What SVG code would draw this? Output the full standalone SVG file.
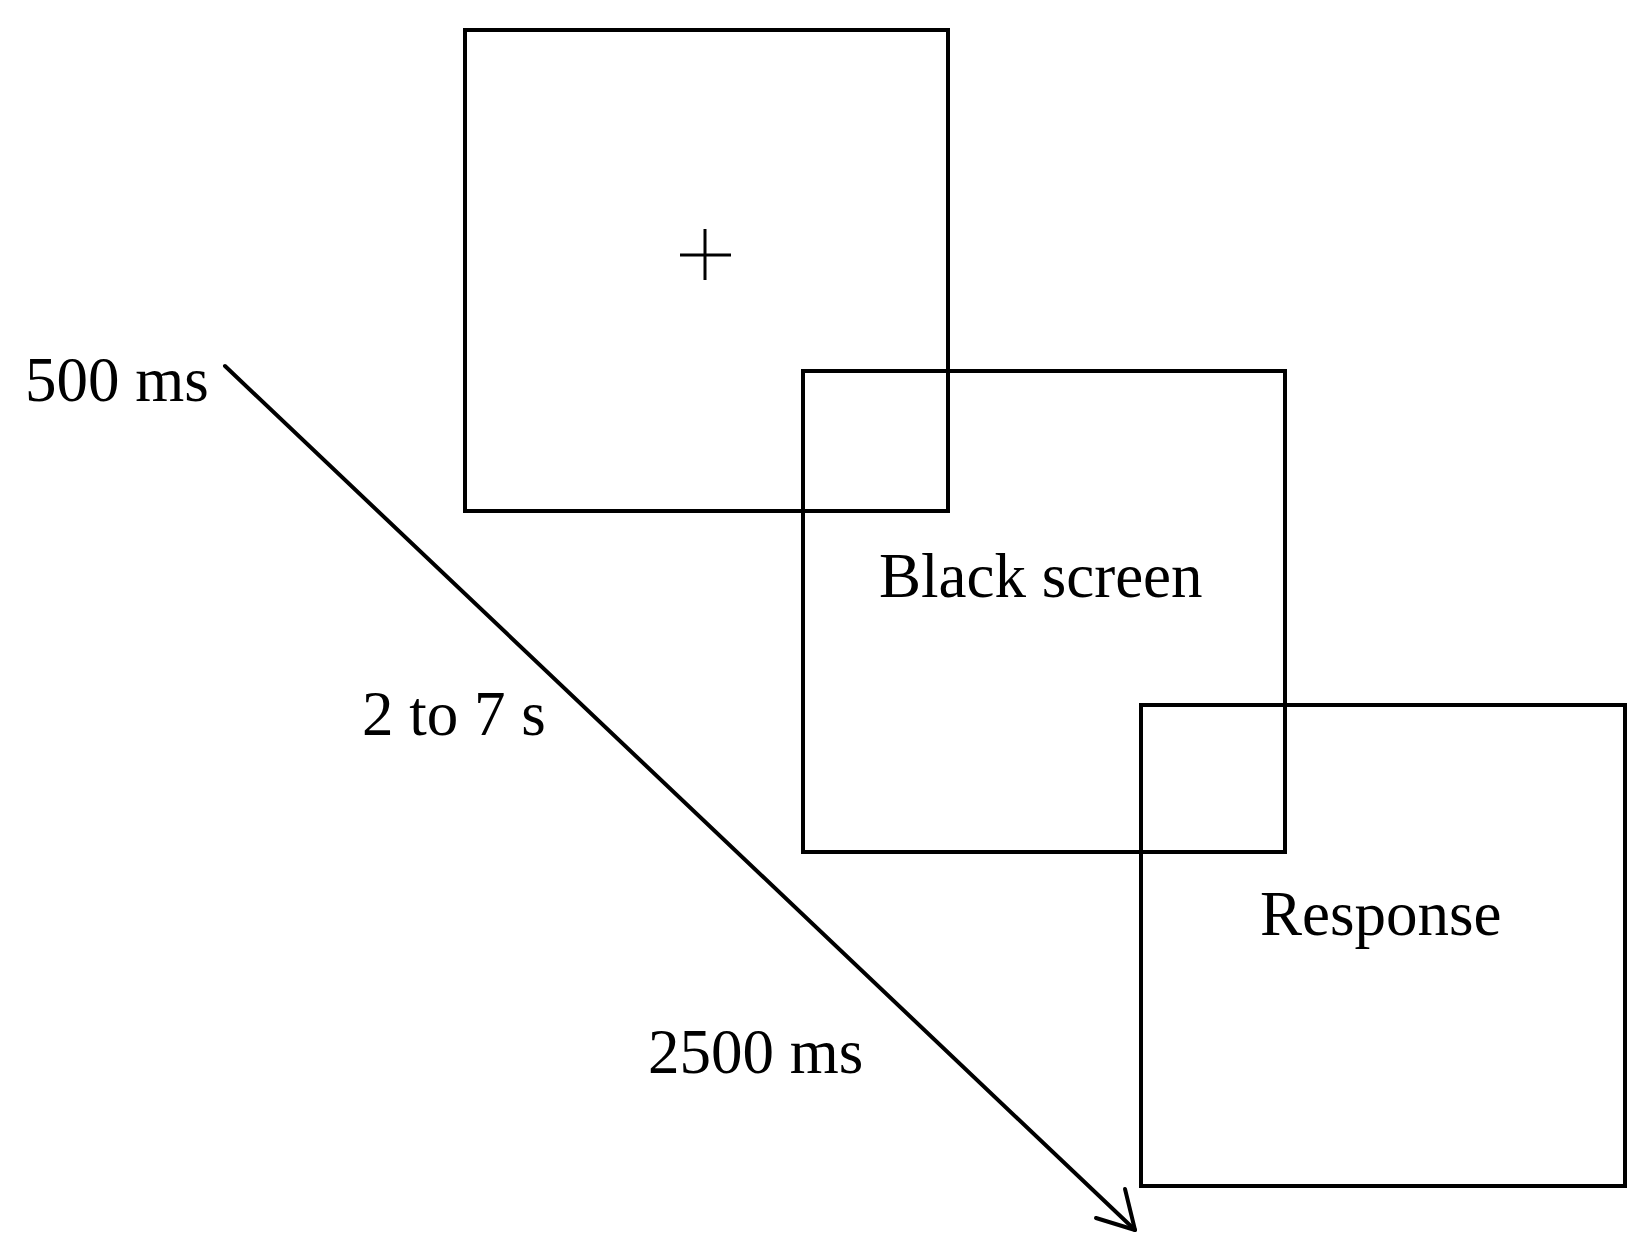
<svg xmlns="http://www.w3.org/2000/svg" width="1642" height="1252" viewBox="0 0 1642 1252">
<style>
.box{fill:none;stroke:#000;stroke-width:4}
.lbl{font-family:"Liberation Serif","Times New Roman",serif;font-size:63px;fill:#000}
.conn{fill:none;stroke:#000;stroke-width:4;stroke-linecap:round;stroke-linejoin:round}
</style>
<rect width="1642" height="1252" fill="#fff"/>
<g id="fixation">
<rect class="box" x="465" y="30" width="483" height="481"/>
<path d="M680 255H731M705 229V280" stroke="#000" stroke-width="3" fill="none"/>
</g>
<g id="black-screen">
<rect class="box" x="803" y="371" width="482" height="481"/>
<text class="lbl" x="879" y="597">Black screen</text>
</g>
<g id="response">
<rect class="box" x="1141" y="705" width="484" height="481"/>
<text class="lbl" x="1260" y="935">Response</text>
</g>
<g id="connectors">
<path class="conn" d="M225 366L1135 1230"/>
<path class="conn" d="M1125 1189L1135 1230L1096 1218"/>
</g>
<g id="labels">
<text class="lbl" x="25" y="401">500 ms</text>
<text class="lbl" x="362" y="735">2 to 7 s</text>
<text class="lbl" x="648" y="1073">2500 ms</text>
</g>
</svg>
